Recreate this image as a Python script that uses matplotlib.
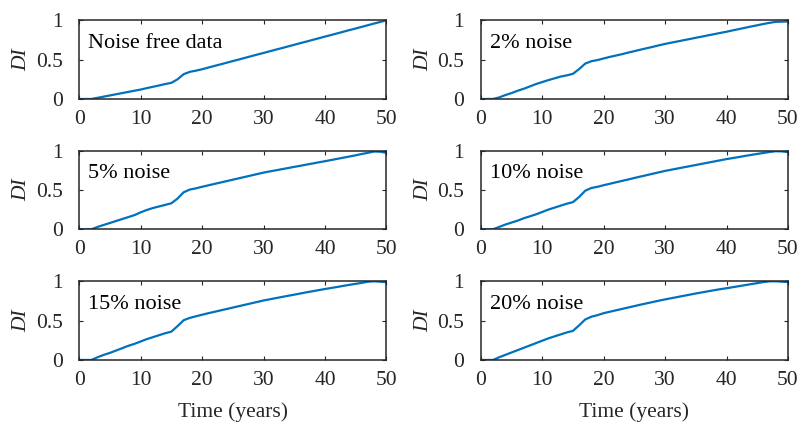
import matplotlib.pyplot as plt

years = list(range(51))

di_free = [0, 0, 0, 0.015, 0.03, 0.045, 0.06, 0.075, 0.09, 0.105,
           0.12, 0.138, 0.155, 0.172, 0.19, 0.205, 0.25, 0.315, 0.345, 0.36,
           0.378, 0.399, 0.42, 0.44, 0.461, 0.482, 0.502, 0.523, 0.544, 0.565,
           0.585, 0.606, 0.627, 0.647, 0.668, 0.689, 0.71, 0.73, 0.751, 0.772,
           0.793, 0.813, 0.834, 0.855, 0.876, 0.896, 0.917, 0.938, 0.959, 0.979,
           1.0]
di_2 = [0, 0, 0, 0.02, 0.05, 0.075, 0.105, 0.13, 0.16, 0.19,
        0.215, 0.24, 0.262, 0.285, 0.3, 0.32, 0.38, 0.45, 0.48, 0.495,
        0.515, 0.535, 0.552, 0.57, 0.59, 0.608, 0.627, 0.645, 0.663, 0.682,
        0.70, 0.716, 0.731, 0.747, 0.762, 0.778, 0.793, 0.809, 0.824, 0.84,
        0.855, 0.872, 0.888, 0.905, 0.921, 0.937, 0.953, 0.968, 0.98, 0.983,
        0.985]
di_5 = [0, 0, 0, 0.03, 0.055, 0.08, 0.105, 0.13, 0.155, 0.18,
        0.215, 0.245, 0.27, 0.29, 0.31, 0.33, 0.39, 0.47, 0.505, 0.52,
        0.54, 0.558, 0.576, 0.594, 0.612, 0.63, 0.648, 0.666, 0.684, 0.702,
        0.72, 0.735, 0.749, 0.764, 0.778, 0.793, 0.807, 0.822, 0.836, 0.851,
        0.865, 0.88, 0.895, 0.91, 0.925, 0.94, 0.957, 0.972, 0.988, 0.986,
        0.97]
di_10 = [0, 0, 0, 0.03, 0.06, 0.085, 0.11, 0.14, 0.165, 0.19,
         0.22, 0.25, 0.275, 0.3, 0.325, 0.345, 0.41, 0.49, 0.525, 0.54,
         0.56, 0.578, 0.597, 0.615, 0.633, 0.652, 0.67, 0.688, 0.706, 0.724,
         0.742, 0.757, 0.772, 0.787, 0.802, 0.817, 0.832, 0.847, 0.862, 0.877,
         0.892, 0.905, 0.918, 0.932, 0.945, 0.958, 0.97, 0.982, 0.992, 0.99,
         0.98]
di_15 = [0, 0, 0, 0.035, 0.065, 0.09, 0.12, 0.15, 0.18, 0.205,
         0.235, 0.265, 0.29, 0.315, 0.34, 0.36, 0.43, 0.505, 0.535, 0.555,
         0.575, 0.594, 0.612, 0.63, 0.648, 0.666, 0.684, 0.702, 0.72, 0.738,
         0.756, 0.771, 0.786, 0.801, 0.816, 0.83, 0.845, 0.86, 0.874, 0.888,
         0.902, 0.915, 0.928, 0.942, 0.955, 0.968, 0.98, 0.995, 1.0, 0.995,
         0.99]
di_20 = [0, 0, 0, 0.035, 0.065, 0.095, 0.125, 0.155, 0.185, 0.215,
         0.245, 0.275, 0.3, 0.325, 0.35, 0.37, 0.44, 0.515, 0.55, 0.57,
         0.595, 0.613, 0.631, 0.649, 0.667, 0.685, 0.703, 0.72, 0.737, 0.754,
         0.77, 0.785, 0.8, 0.815, 0.83, 0.845, 0.859, 0.873, 0.887, 0.9,
         0.912, 0.925, 0.938, 0.951, 0.964, 0.977, 0.99, 1.0, 1.0, 0.995,
         0.99]

labels = ["Noise free data", "2% noise", "5% noise", "10% noise", "15% noise", "20% noise"]
series = [di_free, di_2, di_5, di_10, di_15, di_20]

plt.rcParams['font.family'] = ['Liberation Serif', 'DejaVu Serif']

fig = plt.figure(figsize=(8, 4.23), dpi=100)

lefts = [0.099, 0.601]
bottoms = [0.766, 0.458, 0.149]
w, h = 0.384, 0.186
ink = '#262626'

for i, (lab, di) in enumerate(zip(labels, series)):
    row, col = divmod(i, 2)
    ax = fig.add_axes([lefts[col], bottoms[row], w, h])
    ax.plot(years, di, color='#0072BD', lw=1.6)
    ax.set_xlim(0, 50)
    ax.set_ylim(0, 1)
    ax.set_xticks([0, 10, 20, 30, 40, 50])
    ax.set_yticks([0, 0.5, 1])
    ax.set_yticklabels(["0", "0.5", "1"])
    ax.tick_params(direction='in', top=True, right=True, length=3, width=0.8,
                   color=ink, labelcolor=ink, labelsize=15.5)
    ax.tick_params(axis='x', pad=8)
    ax.tick_params(axis='y', pad=12)
    for s in ax.spines.values():
        s.set_linewidth(1.1)
        s.set_color(ink)
    ax.set_ylabel("DI", fontstyle='italic', color=ink, fontsize=15.5, labelpad=3)
    ax.text(0.03, 0.71, lab, transform=ax.transAxes, va='center', ha='left',
            fontsize=16, color='black')
    if row == 2:
        ax.set_xlabel("Time (years)", color=ink, fontsize=15.5, labelpad=9)

fig.savefig("out.png", dpi=100)
